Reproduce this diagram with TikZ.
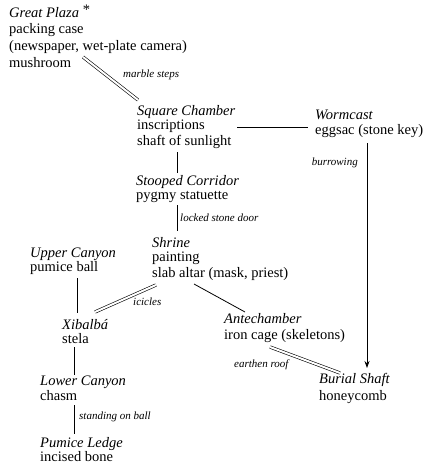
\documentclass[tikz,border=0pt]{standalone}
\usepackage{fontspec}
\setmainfont{Liberation Serif}
\usetikzlibrary{arrows.meta}
\newcommand{\hd}[1]{\textit{#1}}
\newcommand{\rmbox}[1]{\begin{tabular}[t]{@{}l@{}}#1\end{tabular}}
\begin{document}
\begin{tikzpicture}[x=1pt,y=-1pt,
  room/.style={inner sep=0pt, anchor=base west, font=\fontsize{14.5}{17}\selectfont},
  lbl/.style={inner sep=0pt, font=\fontsize{11}{13}\selectfont\itshape},
  conn/.style={line width=0.8pt},
  dbl/.style={double, double distance=2pt, line width=0.6pt},
  arr/.style={line width=0.8pt, -{Stealth[length=7pt,width=5pt]}}]
\useasboundingbox (0,0) rectangle (434,468);
% rooms
\node[room] (gp) at (9,18) {\rmbox{\hd{Great Plaza} \raisebox{3pt}{*}\\[-1pt]packing case\\(newspaper, wet-plate camera)\\mushroom}};
\node[room] (sq) at (137,115) {\rmbox{\hd{Square Chamber}\\[-3pt]inscriptions\\shaft of sunlight}};
\node[room] (wc) at (315,120) {\rmbox{\hd{Wormcast}\\[-3pt]eggsac (stone key)}};
\node[room] (sc) at (136,185) {\rmbox{\hd{Stooped Corridor}\\[-3pt]pygmy statuette}};
\node[room] (sh) at (152,247) {\rmbox{\hd{Shrine}\\[-3pt]painting\\[-1pt]slab altar (mask, priest)}};
\node[room] (uc) at (30,257) {\rmbox{\hd{Upper Canyon}\\[-3pt]pumice ball}};
\node[room] (xi) at (62,329) {\rmbox{\hd{Xibalbá}\\[-3pt]stela}};
\node[room] (an) at (224,323) {\rmbox{\hd{Antechamber}\\[-1pt]iron cage (skeletons)}};
\node[room] (bs) at (319,383) {\rmbox{\hd{Burial Shaft}\\honeycomb}};
\node[room] (lc) at (40,385) {\rmbox{\hd{Lower Canyon}\\[-2pt]chasm}};
\node[room] (pl) at (40,447) {\rmbox{\hd{Pumice Ledge}\\[-3pt]incised bone}};
% connectors
\draw[dbl] ([shift={(74,39)}]gp.base west) -- ([shift={(1,-15)}]sq.base west);
\draw[conn] ([shift={(100,12)}]sq.base west) -- ([shift={(-7,7)}]wc.base west);
\draw[arr] ([shift={(52,23)}]wc.base west) -- ([shift={(48,-15)}]bs.base west);
\draw[conn] ([shift={(40,37)}]sq.base west) -- ([shift={(41,-12)}]sc.base west);
\draw[conn] ([shift={(41,20)}]sc.base west) -- ([shift={(25,-16)}]sh.base west);
\draw[conn] ([shift={(47,21)}]uc.base west) -- ([shift={(15,-16)}]xi.base west);
\draw[dbl] ([shift={(4,38)}]sh.base west) -- ([shift={(33,-17)}]xi.base west);
\draw[conn] ([shift={(42,37)}]sh.base west) -- ([shift={(21,-11)}]an.base west);
\draw[dbl] ([shift={(46,24)}]an.base west) -- ([shift={(21,-10)}]bs.base west);
\draw[conn] ([shift={(12,18)}]xi.base west) -- ([shift={(34,-10)}]lc.base west);
\draw[conn] ([shift={(34,20)}]lc.base west) -- ([shift={(34,-13)}]pl.base west);
% labels
\node[lbl, anchor=west] (l1) at (123,75) {marble steps};
\node[lbl, anchor=east] (l2) at (358,163) {burrowing};
\node[lbl, anchor=west] (l3) at (180,218) {locked stone door};
\node[lbl, anchor=west] (l4) at (133,302) {icicles};
\node[lbl, anchor=west] (l5) at (234,365) {earthen roof};
\node[lbl, anchor=west] (l6) at (79,417) {standing on ball};
\end{tikzpicture}
\end{document}
